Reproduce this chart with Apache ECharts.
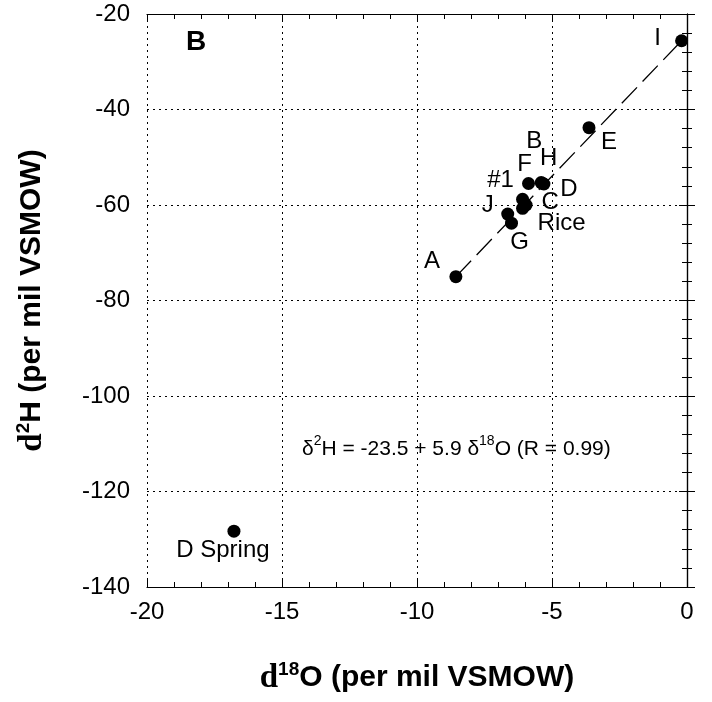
<!DOCTYPE html>
<html><head><meta charset="utf-8">
<script src="https://cdn.jsdelivr.net/npm/echarts@6/dist/echarts.min.js"></script>
<style>html,body{margin:0;padding:0;background:#fff}#c{width:712px;height:702px}</style>
</head><body><div id="c"></div>
<script>
// Data
const names = ['I','E','B','H','D','F','#1','C','Rice','J','G','A','D Spring'];
const d18O = [-0.2,-3.63,-5.4,-5.35,-5.3,-5.87,-6.09,-5.96,-6.09,-6.64,-6.5,-8.56,-16.78];
const d2H  = [-25.6,-43.8,-55.3,-55.5,-55.6,-55.5,-58.8,-60.0,-60.7,-61.9,-63.8,-75.0,-128.3];
const fitX = [-8.56,-0.2];
const fitY = [-75.0,-25.6];
const xTicks = [-20,-15,-10,-5,0];
const yTicks = [-20,-40,-60,-80,-100,-120,-140];

// Label placement (style only)
const labelOffset = {
  'I':[-24,-2],'E':[20,15],'B':[-7,-41],'H':[6,-25],'D':[25,5],'F':[-4,-19],
  '#1':[-22,-19],'C':[24,-3],'Rice':[39,15],'J':[-20,-9],'G':[8,19],'A':[-24,-15],'D Spring':[-11,19]
};

const FONT = 'Liberation Sans, Arial, Helvetica, sans-serif';
const SERIF = 'Liberation Serif, Times New Roman, serif';
const chart = echarts.init(document.getElementById('c'), null, {renderer:'canvas'});

const axisCommon = {
  axisLine:{show:true, lineStyle:{color:'#000', width:1.2}},
  axisTick:{show:true, inside:true, length:8, lineStyle:{color:'#000', width:1}},
  minorTick:{show:true, splitNumber:5, length:5, lineStyle:{color:'#000', width:1}},
};

const nameRich = {
  d:{fontFamily:SERIF, fontWeight:'bold', fontSize:33, color:'#000', lineHeight:36, verticalAlign:'middle'},
  sup:{fontFamily:FONT, fontWeight:'bold', fontSize:19, color:'#000', lineHeight:20, verticalAlign:'top'},
  b:{fontFamily:FONT, fontWeight:'bold', fontSize:30, color:'#000', lineHeight:36, verticalAlign:'middle'}
};

const pts = names.map((n,i)=>({
  value:[d18O[i], d2H[i]], name:n,
  label:{show:true, position:'inside', offset:labelOffset[n], formatter:n,
         color:'#000', fontSize:24, fontFamily:FONT, opacity:1}
}));

chart.setOption({
  backgroundColor:'#fff',
  animation:false,
  grid:{left:147, right:25, top:14, bottom:115, show:false},
  xAxis:[
    Object.assign({type:'value', min:-20, max:0, interval:5, position:'bottom',
      axisLabel:{color:'#000', fontSize:24, fontFamily:FONT, margin:13},
      splitLine:{show:true, lineStyle:{color:'#000', type:[2,4], width:1}},
      name:'{d|d}{sup|18}{b|O (per mil VSMOW)}', nameLocation:'middle', nameGap:73,
      nameTextStyle:{rich:nameRich}
    }, axisCommon),
    Object.assign({type:'value', min:-20, max:0, interval:5, position:'top',
      axisLabel:{show:false}, splitLine:{show:false}}, axisCommon)
  ],
  yAxis:[
    Object.assign({type:'value', min:-140, max:-20, interval:20, position:'left',
      axisLabel:{color:'#000', fontSize:24, fontFamily:FONT, margin:17},
      splitLine:{show:true, lineStyle:{color:'#000', type:[2,4], width:1}},
      name:'{d|d}{sup|2}{b|H (per mil VSMOW)}', nameLocation:'middle', nameGap:97, nameRotate:90,
      nameTextStyle:{rich:nameRich}
    }, axisCommon),
    Object.assign({type:'value', min:-140, max:-20, interval:20, position:'right',
      axisLabel:{show:false}, splitLine:{show:false}}, axisCommon)
  ],
  series:[
    {type:'line', data:fitX.map((x,i)=>[x,fitY[i]]), symbol:'none',
     lineStyle:{color:'#000', width:1.3, type:[22,8], opacity:1}, z:1, silent:true},
    {type:'scatter', data:pts, symbol:'circle', symbolSize:13,
     itemStyle:{color:'#000', opacity:1}, z:3}
  ],
  graphic:[
    {type:'text', left:186, top:28, style:{text:'B', fontFamily:FONT, fontWeight:'bold', fontSize:28, fill:'#000'}},
    {type:'text', left:302, top:434, style:{
      text:'{t|δ}{s|2}{t|H = -23.5 + 5.9 δ}{s|18}{t|O (R = 0.99)}',
      rich:{
        t:{fontFamily:FONT, fontSize:21, fill:'#000', color:'#000', lineHeight:30, verticalAlign:'middle'},
        s:{fontFamily:FONT, fontSize:14, fill:'#000', color:'#000', lineHeight:16, verticalAlign:'top'}
      }
    }}
  ]
});
</script></body></html>
